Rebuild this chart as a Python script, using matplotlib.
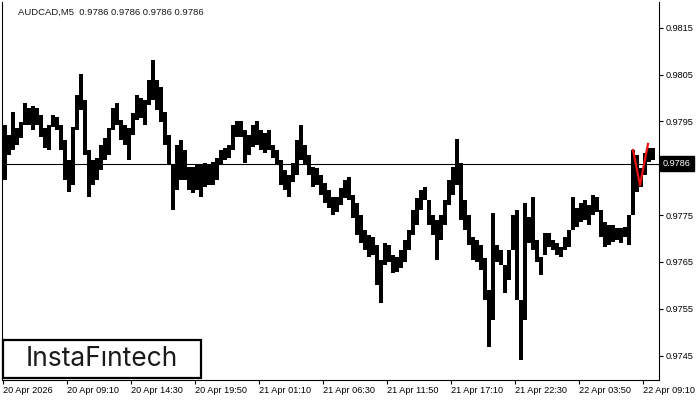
import matplotlib.pyplot as plt
from matplotlib.patches import Rectangle
from matplotlib.transforms import blended_transform_factory

# AUDCAD M5, each column = 4 five-minute bars (high / low)
highs = [0.97942, 0.97921, 0.97970, 0.97936, 0.97949, 0.97989, 0.97979, 0.97983, 0.97979, 0.97964,
         0.97936, 0.97942, 0.97964, 0.97959, 0.97942, 0.97910, 0.97868, 0.97938, 0.98006, 0.98051,
         0.97996, 0.97889, 0.97868, 0.97872, 0.97900, 0.97915, 0.97936, 0.97979, 0.97989, 0.97953,
         0.97942, 0.97936, 0.97968, 0.98006, 0.98000, 0.97996, 0.98038, 0.98081, 0.98038, 0.98023,
         0.97970, 0.97921, 0.97857, 0.97900, 0.97910, 0.97889, 0.97853, 0.97853, 0.97857, 0.97857,
         0.97861, 0.97857, 0.97863, 0.97872, 0.97889, 0.97893, 0.97900, 0.97942, 0.97951, 0.97951,
         0.97932, 0.97921, 0.97942, 0.97951, 0.97932, 0.97925, 0.97932, 0.97900, 0.97889, 0.97868,
         0.97846, 0.97836, 0.97861, 0.97910, 0.97942, 0.97900, 0.97878, 0.97853, 0.97851, 0.97836,
         0.97819, 0.97804, 0.97789, 0.97789, 0.97808, 0.97825, 0.97831, 0.97793, 0.97776, 0.97750,
         0.97718, 0.97708, 0.97703, 0.97686, 0.97654, 0.97690, 0.97686, 0.97665, 0.97661, 0.97676,
         0.97697, 0.97718, 0.97761, 0.97786, 0.97804, 0.97810, 0.97782, 0.97750, 0.97740, 0.97750,
         0.97782, 0.97825, 0.97853, 0.97912, 0.97861, 0.97782, 0.97750, 0.97703, 0.97697, 0.97686,
         0.97658, 0.97590, 0.97754, 0.97686, 0.97676, 0.97644, 0.97676, 0.97750, 0.97761, 0.97569,
         0.97776, 0.97746, 0.97789, 0.97697, 0.97661, 0.97712, 0.97712, 0.97697, 0.97690, 0.97682,
         0.97703, 0.97718, 0.97789, 0.97765, 0.97776, 0.97782, 0.97772, 0.97793, 0.97789, 0.97761,
         0.97735, 0.97729, 0.97729, 0.97722, 0.97722, 0.97725, 0.97750, 0.97889, 0.97878, 0.97851,
         0.97882, 0.97893, 0.97893]
lows = [0.97825, 0.97878, 0.97889, 0.97900, 0.97915, 0.97942, 0.97942, 0.97932, 0.97942, 0.97917,
        0.97893, 0.97889, 0.97938, 0.97932, 0.97889, 0.97825, 0.97799, 0.97814, 0.97932, 0.97974,
        0.97878, 0.97789, 0.97814, 0.97825, 0.97846, 0.97868, 0.97878, 0.97932, 0.97942, 0.97910,
        0.97900, 0.97868, 0.97921, 0.97953, 0.97957, 0.97942, 0.97985, 0.97996, 0.97974, 0.97949,
        0.97900, 0.97857, 0.97761, 0.97804, 0.97825, 0.97825, 0.97804, 0.97797, 0.97804, 0.97789,
        0.97810, 0.97814, 0.97814, 0.97825, 0.97857, 0.97868, 0.97872, 0.97889, 0.97917, 0.97917,
        0.97861, 0.97878, 0.97895, 0.97900, 0.97889, 0.97882, 0.97889, 0.97872, 0.97857, 0.97814,
        0.97804, 0.97789, 0.97821, 0.97836, 0.97868, 0.97857, 0.97836, 0.97810, 0.97814, 0.97793,
        0.97776, 0.97765, 0.97750, 0.97757, 0.97772, 0.97786, 0.97782, 0.97744, 0.97708, 0.97690,
        0.97676, 0.97661, 0.97665, 0.97601, 0.97562, 0.97644, 0.97650, 0.97626, 0.97629, 0.97637,
        0.97650, 0.97676, 0.97708, 0.97729, 0.97761, 0.97782, 0.97729, 0.97708, 0.97654, 0.97697,
        0.97729, 0.97772, 0.97793, 0.97814, 0.97740, 0.97718, 0.97686, 0.97654, 0.97650, 0.97633,
        0.97569, 0.97469, 0.97526, 0.97650, 0.97644, 0.97584, 0.97612, 0.97676, 0.97569, 0.97441,
        0.97526, 0.97690, 0.97676, 0.97650, 0.97622, 0.97665, 0.97682, 0.97676, 0.97665, 0.97661,
        0.97676, 0.97682, 0.97718, 0.97725, 0.97735, 0.97740, 0.97729, 0.97750, 0.97757, 0.97703,
        0.97682, 0.97686, 0.97693, 0.97697, 0.97690, 0.97703, 0.97686, 0.97750, 0.97799, 0.97810,
        0.97836, 0.97863, 0.97868]

# pattern marker (bar index, price)
pattern_x = [630, 637, 645]
pattern_y = [0.97889, 0.97814, 0.97902]

current_price = 0.9786
price_ticks = [0.9745, 0.9755, 0.9765, 0.9775, 0.9785, 0.9795, 0.9805, 0.9815]
time_labels = ['20 Apr 2026', '20 Apr 09:10', '20 Apr 14:30', '20 Apr 19:50', '21 Apr 01:10',
               '21 Apr 06:30', '21 Apr 11:50', '21 Apr 17:10', '21 Apr 22:30', '22 Apr 03:50',
               '22 Apr 09:10']
bars_per_label = 64
bars_per_column = 4

plt.rcParams['font.family'] = ['Liberation Sans', 'DejaVu Sans']

fig = plt.figure(figsize=(7, 4), dpi=100)
ax = fig.add_axes([2 / 700, 20 / 400, 657 / 700, 378 / 400])

xs = [i * bars_per_column for i in range(len(highs))]
ax.bar(xs, [h - l for h, l in zip(highs, lows)], bottom=lows, width=bars_per_column,
       align='edge', color='black', linewidth=0, antialiased=False, zorder=2)
ax.axhline(current_price, color='black', linewidth=0.8, zorder=1)
ax.plot(pattern_x, pattern_y, color='#ee1111', linewidth=1.6, zorder=5)

ax.set_xlim(-1, 656)
ax.set_ylim(0.97398, 0.98205)

ax.yaxis.tick_right()
ax.set_yticks(price_ticks)
ax.set_yticklabels(['%.4f' % p for p in price_ticks])
ax.set_xticks([k * bars_per_label for k in range(len(time_labels))])
ax.set_xticklabels(time_labels, ha='left')
ax.tick_params(axis='both', direction='out', length=3, width=0.8, labelsize=6.6,
               colors='black', pad=1.5)
ax.tick_params(axis='y', pad=2)
ax.spines['top'].set_visible(False)
for s in ['left', 'right', 'bottom']:
    ax.spines[s].set_linewidth(0.8)

# current price box on the price scale
tr = blended_transform_factory(ax.transAxes, ax.transData)
ax.text(1.006, current_price, '%.4f' % current_price, transform=tr, ha='left', va='center',
        fontsize=6.6, color='white', clip_on=False, zorder=10,
        bbox=dict(boxstyle='square,pad=0.3', fc='black', ec='black'))

fig.text(18 / 700, 1 - 12 / 400, 'AUDCAD,M5  0.9786 0.9786 0.9786 0.9786',
         fontsize=6.8, color='#1a1a1a', va='center', ha='left')

# logo box
fig.patches.append(Rectangle((3 / 700, 22 / 400), 198 / 700, 38 / 400, transform=fig.transFigure,
                             fc='white', ec='black', lw=1.6, zorder=20))
fig.text(102 / 700, 41 / 400, 'InstaF\u0131ntech', fontsize=19, family=['Inter', 'DejaVu Sans'],
         color='#1a1a1a', ha='center', va='center', zorder=21)

fig.savefig('out.png', dpi=100)
